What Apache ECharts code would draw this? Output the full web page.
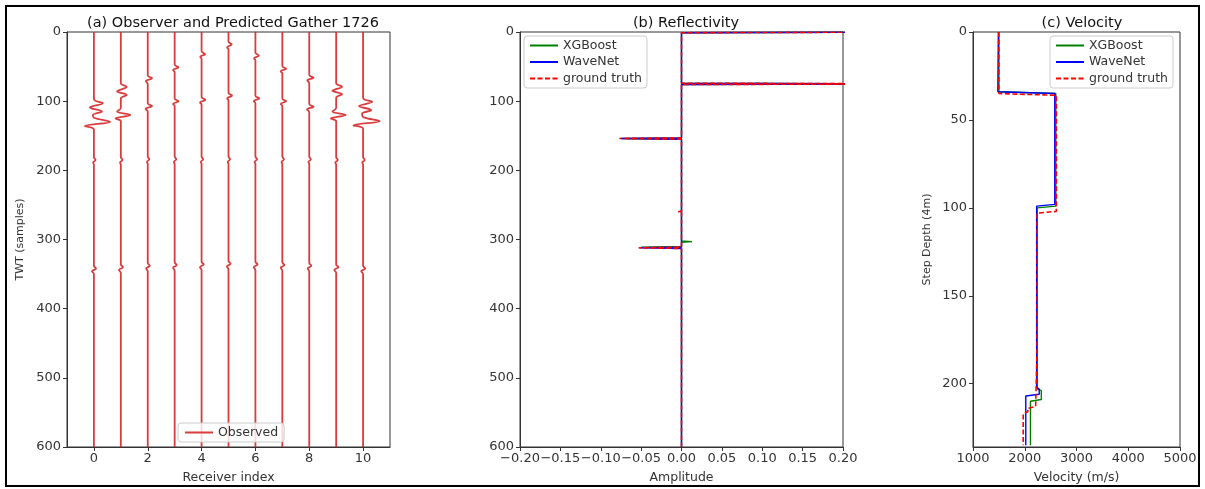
<!DOCTYPE html>
<html>
<head>
<meta charset="utf-8">
<title>Gather 1726</title>
<script src="https://cdn.jsdelivr.net/npm/echarts@6.0.0/dist/echarts.min.js"></script>
<style>
  html, body { margin: 0; padding: 0; background: #fff; }
  #chart { width: 1205px; height: 489px; }
</style>
</head>
<body>
<div id="chart"></div>
<script>
// (a) wiggle traces: [sample, amplitude] knots, one list per receiver
var traceKnots = [
  [[0,0],[97,0],[103,0.33],[109,-0.15],[115,0.3],[120,-0.04],[124,0],[130,0.6],[136,-0.34],[141,0],[181,0],[185,0.06],[189,-0.03],[192,0],[338,0],[342,0.08],[346,-0.07],[350,0],[600,0]],
  [[0,0],[74,0],[79,0.22],[86,-0.14],[91,0.22],[96,0],[110,0],[115,-0.14],[120,0.35],[125,-0.2],[129,0],[181,0],[185,0.06],[189,-0.03],[192,0],[336,0],[340,0.08],[344,-0.07],[348,0],[600,0]],
  [[0,0],[63,0],[67,0.16],[71,-0.07],[75,0],[103,0],[107,0.16],[111,-0.08],[115,0],[180,0],[184,0.06],[188,-0.03],[191,0],[334,0],[338,0.08],[342,-0.06],[346,0],[600,0]],
  [[0,0],[47,0],[51,0.14],[55,-0.06],[58,0],[96,0],[100,0.14],[104,-0.06],[107,0],[180,0],[184,0.06],[188,-0.03],[191,0],[333,0],[337,0.08],[341,-0.06],[345,0],[600,0]],
  [[0,0],[28,0],[32,0.13],[36,-0.05],[39,0],[94,0],[98,0.14],[102,-0.06],[105,0],[180,0],[184,0.06],[188,-0.03],[191,0],[332,0],[336,0.08],[340,-0.06],[344,0],[600,0]],
  [[0,0],[14,0],[18,0.12],[22,-0.05],[25,0],[88,0],[92,0.13],[96,-0.05],[99,0],[180,0],[184,0.06],[188,-0.03],[191,0],[331,0],[335,0.08],[339,-0.06],[343,0],[600,0]],
  [[0,0],[30,0],[34,0.13],[38,-0.05],[41,0],[92,0],[96,0.14],[100,-0.06],[103,0],[180,0],[184,0.06],[188,-0.03],[191,0],[332,0],[336,0.08],[340,-0.06],[344,0],[600,0]],
  [[0,0],[49,0],[53,0.14],[57,-0.06],[60,0],[96,0],[100,0.14],[104,-0.06],[107,0],[180,0],[184,0.06],[188,-0.03],[191,0],[333,0],[337,0.08],[341,-0.06],[345,0],[600,0]],
  [[0,0],[62,0],[66,0.16],[70,-0.07],[74,0],[104,0],[108,0.16],[112,-0.08],[116,0],[180,0],[184,0.06],[188,-0.03],[191,0],[334,0],[338,0.08],[342,-0.06],[346,0],[600,0]],
  [[0,0],[74,0],[79,0.22],[85,-0.14],[90,0.22],[95,0],[110,0],[115,-0.14],[120,0.35],[125,-0.2],[129,0],[181,0],[185,0.06],[189,-0.03],[192,0],[336,0],[340,0.08],[344,-0.07],[348,0],[600,0]],
  [[0,0],[95,0],[101,0.34],[107,-0.15],[113,0.3],[118,-0.04],[123,0],[129,0.62],[135,-0.36],[140,0],[181,0],[185,0.06],[189,-0.03],[192,0],[338,0],[342,0.08],[346,-0.07],[350,0],[600,0]]
];
var receiverTicks = [0, 2, 4, 6, 8, 10];

// (b) reflectivity spikes: [sample, amplitude]
var xgbSpikes  = [[0,0.3],[75,0.3],[154,-0.074],[303,0.013],[311,-0.05]];
var waveSpikes = [[0,0.3],[75,0.3],[148,0.002],[154,-0.075],[312,-0.052]];
var truthSpikes = [[0,0.32],[75,0.31],[154,-0.077],[260,-0.004],[312,-0.053]];

// (c) velocity profiles: [velocity, step depth]
var xgbVel   = [[1500,0],[1500,34],[2600,35],[2600,99],[2240,100],[2240,203],[2320,204],[2320,209],[2110,210],[2110,235]];
var waveVel  = [[1490,0],[1480,34],[2580,35],[2580,98],[2230,99],[2230,202],[2280,203],[2280,206],[2020,207],[2020,235]];
var truthVel = [[1500,0],[1500,35],[2610,36],[2610,102],[2240,103],[2240,178],[2210,179],[2210,213],[2060,214],[2060,216],[1970,217],[1970,235]];
var depthTicks = [0, 50, 100, 150, 200];

var traceColor = '#d62728';
var axisColor = '#333';
var fontFam = 'DejaVu Sans';

function spikeLine(spikes) {
  var d = [];
  spikes.forEach(function (s) {
    if (s[0] > 0) d.push([0, s[0] - 1]);
    d.push([s[1], s[0]]);
    d.push([0, s[0] + 1]);
  });
  d.push([0, 600]);
  return d;
}

function minusFmt(v) {
  if (Math.abs(v) < 1e-9) return '0.00';
  return v.toFixed(2).replace('-', '\u2212');
}
function plainFmt(v) { return String(v); }

var chart = echarts.init(document.getElementById('chart'));

var labelStyle = { color: axisColor, fontSize: 13, fontFamily: fontFam };
var nameStyle = { color: axisColor, fontSize: 12.5, fontFamily: fontFam };
var yNameStyle = { color: axisColor, fontSize: 11, fontFamily: fontFam };
function gridBox(left, width) {
  return { left: left, top: 32, width: width, bottom: 41, show: true, borderColor: axisColor, borderWidth: 1, containLabel: false };
}
function xAx(idx, extra) {
  return Object.assign({
    type: 'value', gridIndex: idx,
    axisLine: { show: true, onZero: false, lineStyle: { color: axisColor } },
    axisTick: { show: true, length: 4, lineStyle: { color: axisColor } },
    axisLabel: Object.assign({ margin: 5, formatter: plainFmt }, labelStyle),
    splitLine: { show: false },
    nameLocation: 'middle', nameGap: 24, nameTextStyle: nameStyle
  }, extra);
}
function yAx(idx, extra) {
  return Object.assign({
    type: 'value', gridIndex: idx, inverse: true,
    axisLine: { show: true, onZero: false, lineStyle: { color: axisColor } },
    axisTick: { show: true, length: 4, lineStyle: { color: axisColor } },
    axisLabel: Object.assign({ margin: 6, formatter: plainFmt }, labelStyle),
    splitLine: { show: false },
    nameLocation: 'middle', nameGap: 38, nameTextStyle: yNameStyle
  }, extra);
}

var series = [];
traceKnots.forEach(function (knots, i) {
  series.push({
    type: 'line', name: 'Observed', xAxisIndex: 0, yAxisIndex: 0,
    data: knots.map(function (k) { return [i + k[1], k[0]]; }),
    smooth: 0.35, symbol: 'none', silent: true,
    lineStyle: { color: traceColor, width: 1.8, opacity: 0.9 }, itemStyle: { color: traceColor }
  });
});

function addLine(name, data, color, dashed, ax) {
  series.push({
    type: 'line', name: name, xAxisIndex: ax, yAxisIndex: ax, data: data,
    symbol: 'none', silent: true,
    lineStyle: { color: color, width: dashed ? 1.6 : 1.4, type: dashed ? [5, 2.5] : 'solid' },
    itemStyle: { color: color }
  });
}
addLine('XGBoost', spikeLine(xgbSpikes), '#008000', false, 1);
addLine('WaveNet', spikeLine(waveSpikes), '#0000ff', false, 1);
addLine('ground truth', spikeLine(truthSpikes), '#ff0000', true, 1);
addLine('XGBoost', xgbVel, '#008000', false, 2);
addLine('WaveNet', waveVel, '#0000ff', false, 2);
addLine('ground truth', truthVel, '#ff0000', true, 2);

var legendBase = {
  orient: 'vertical', itemWidth: 28, itemHeight: 13, itemGap: 3.5,
  padding: [3, 5], borderColor: '#ccc', borderWidth: 1, borderRadius: 3,
  backgroundColor: 'rgba(255,255,255,0.8)', selectedMode: false,
  itemStyle: { opacity: 0 },
  textStyle: { color: axisColor, fontSize: 12.5, fontFamily: fontFam }
};

var titleStyle = { fontSize: 14.5, fontWeight: 'normal', color: '#111', fontFamily: fontFam };

var option = {
  animation: false,
  title: [
    { text: '(a) Observer and Predicted Gather 1726', left: 228, top: 11, textAlign: 'center', textStyle: titleStyle },
    { text: '(b) Reflectivity', left: 681, top: 11, textAlign: 'center', textStyle: titleStyle },
    { text: '(c) Velocity', left: 1077, top: 11, textAlign: 'center', textStyle: titleStyle }
  ],
  legend: [
    Object.assign({}, legendBase, { data: ['Observed'], left: 178, top: 423, padding: [3, 6] }),
    Object.assign({}, legendBase, { data: ['XGBoost', 'WaveNet', 'ground truth'], left: 524, top: 36 }),
    Object.assign({}, legendBase, { data: ['XGBoost', 'WaveNet', 'ground truth'], left: 1050, top: 36 })
  ],
  grid: [gridBox(67, 323), gridBox(520, 323), gridBox(973, 207)],
  xAxis: [
    xAx(0, { min: -1, max: 11, name: 'Receiver index',
      axisTick: { show: true, length: 4, lineStyle: { color: axisColor }, customValues: receiverTicks },
      axisLabel: Object.assign({ margin: 5, customValues: receiverTicks, formatter: plainFmt }, labelStyle) }),
    xAx(1, { min: -0.2, max: 0.2, interval: 0.05, name: 'Amplitude',
      axisLabel: Object.assign({ margin: 5, formatter: minusFmt }, labelStyle) }),
    xAx(2, { min: 1000, max: 5000, interval: 1000, name: 'Velocity (m/s)' })
  ],
  yAxis: [
    yAx(0, { min: 0, max: 600, interval: 100, name: 'TWT (samples)', nameGap: 41 }),
    yAx(1, { min: 0, max: 600, interval: 100 }),
    yAx(2, { min: 0, max: 236, name: 'Step Depth (4m)', nameGap: 40,
      axisTick: { show: true, length: 4, lineStyle: { color: axisColor }, customValues: depthTicks },
      axisLabel: Object.assign({ margin: 6, customValues: depthTicks, formatter: plainFmt }, labelStyle) })
  ],
  graphic: [{
    type: 'rect', silent: true, z: 100,
    shape: { x: 6, y: 6, width: 1193, height: 480 },
    style: { fill: 'none', stroke: '#000', lineWidth: 2 }
  }],
  series: series
};

chart.setOption(option);
</script>
</body>
</html>
